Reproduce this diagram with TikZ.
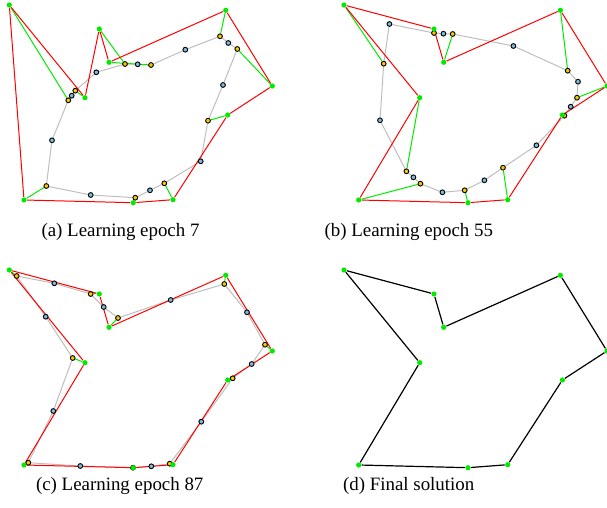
\documentclass[tikz,border=0pt]{standalone}
\usepackage{fontspec}
\setmainfont{Liberation Serif}
\usetikzlibrary{backgrounds}
\definecolor{cgreen}{RGB}{0,235,0}
\definecolor{nblue}{RGB}{125,185,220}
\definecolor{ngold}{RGB}{250,200,0}
\definecolor{ringgray}{RGB}{190,190,190}
\tikzset{
  city/.style = {circle, fill=cgreen, inner sep=0pt, minimum size=2.6pt},
  nrn/.style  = {circle, draw=black, line width=0.45pt, inner sep=0pt,
                 minimum size=2.4pt},
  ring/.style = {draw=ringgray, line width=0.5pt},
  link/.style = {draw=cgreen, line width=0.5pt},
  tour/.style = {draw=red, line width=0.5pt},
  sol/.style  = {draw=black, line width=0.6pt},
  capt/.style = {font=\fontsize{9.45}{11}\selectfont, inner sep=0pt},
}
% the ten cities, panel-local pixel coordinates
\def\citylist{1/9.3/5, 2/99.3/29, 3/109/62.3, 4/225.7/10.3, 5/272.3/86,
  6/227.7/115, 7/173/199.7, 8/133.3/202.7, 9/24/200, 10/85/97.7}

\begin{document}
\begin{tikzpicture}[x=0.5pt, y=-0.5pt]
  \useasboundingbox (0,0) rectangle (607,508);

  % (a) epoch 7
  \begin{scope}
    \foreach \i/\s/\x/\y in {1/gold/46.3/186, 2/blue/90.7/195, 3/gold/135.3/197.7,
      4/blue/150/190.3, 5/gold/164.3/183.3, 6/blue/200.7/161.3, 7/gold/208/120.7,
      8/blue/223/85, 9/gold/237.3/49, 10/blue/228.3/43, 11/gold/220/36.3,
      12/blue/185.3/49.7, 13/gold/151/65, 14/blue/137.7/64.3, 15/gold/125/64,
      16/blue/96.3/72.3, 17/gold/75.3/90.7, 18/blue/71.7/95.7, 19/gold/68.3/100.3,
      20/blue/52/140.3}
      \node[nrn, fill=n\s] (a-n\i) at (\x,\y) {};
    \foreach \i/\x/\y in \citylist
      \node[city] (a-c\i) at (\x,\y) {};
    \begin{scope}[on background layer]
      \foreach \i [remember=\i as \j (initially 20)] in {1,...,20}
        \draw[ring] (a-n\j) -- (a-n\i);
      \foreach \c/\n in {9/1, 8/3, 7/5, 6/7, 5/9, 4/11, 3/13, 2/15, 10/17, 1/19}
        \draw[link] (a-c\c) -- (a-n\n);
      \draw[tour] (a-c9) -- (a-c8) -- (a-c7) -- (a-c6) -- (a-c5) -- (a-c4)
        -- (a-c3) -- (a-c2) -- (a-c10) -- (a-c1) -- (a-c9);
    \end{scope}
  \end{scope}
  \node[capt] (capa) at (120.5,232.3) {(a) Learning epoch 7};

  % (b) epoch 55
  \begin{scope}[shift={(334.7,0)}]
    \foreach \i/\s/\x/\y in {1/blue/54.7/24, 2/gold/99.3/33, 3/blue/108.7/33.7,
      4/gold/118/34, 5/blue/178.7/46, 6/gold/233/70.7, 7/blue/243.3/81.7,
      8/gold/242.3/97.7, 9/blue/236/106.7, 10/gold/229.7/115.7, 11/blue/201.7/145.3,
      12/gold/168.3/167.7, 13/blue/149.7/180.3, 14/gold/130/190.3,
      15/blue/107.7/192.3, 16/gold/85.7/183.7, 17/blue/78.7/177.3,
      18/gold/71.7/171.3, 19/blue/45.3/120.3, 20/gold/49/63.7}
      \node[nrn, fill=n\s] (b-n\i) at (\x,\y) {};
    \foreach \i/\x/\y in \citylist
      \node[city] (b-c\i) at (\x,\y) {};
    \begin{scope}[on background layer]
      \foreach \i [remember=\i as \j (initially 20)] in {1,...,20}
        \draw[ring] (b-n\j) -- (b-n\i);
      \foreach \c/\n in {2/2, 3/4, 4/6, 5/8, 6/10, 7/12, 8/14, 9/16, 10/18, 1/20}
        \draw[link] (b-c\c) -- (b-n\n);
      \draw[tour] (b-c1) -- (b-c2) -- (b-c3) -- (b-c4) -- (b-c5) -- (b-c6)
        -- (b-c7) -- (b-c8) -- (b-c9) -- (b-c10) -- (b-c1);
    \end{scope}
  \end{scope}
  \node[capt] (capb) at (408.8,232.3) {(b) Learning epoch 55};

  % (c) epoch 87
  \begin{scope}[shift={(0,265)}]
    \foreach \i/\s/\x/\y in {1/gold/16.7/11, 2/blue/54.3/18.3, 3/gold/90.7/29,
      4/blue/103.7/42, 5/gold/118/53, 6/blue/170.7/35, 7/gold/224.3/19,
      8/blue/247/47.3, 9/gold/265/79.7, 10/blue/251.7/99, 11/gold/232.7/113.3,
      12/blue/201.3/156.7, 13/gold/169.7/198.7, 14/blue/151.3/201.3,
      15/gold/133/202.7, 16/blue/80.3/201, 17/gold/28.3/197.7, 18/blue/53.3/146,
      19/gold/72.7/93, 20/blue/45.7/51.7}
      \node[nrn, fill=n\s] (c-n\i) at (\x,\y) {};
    \foreach \i/\x/\y in \citylist
      \node[city] (c-c\i) at (\x,\y) {};
    \begin{scope}[on background layer]
      \foreach \i [remember=\i as \j (initially 20)] in {1,...,20}
        \draw[ring] (c-n\j) -- (c-n\i);
      \foreach \c/\n in {1/1, 2/3, 3/5, 4/7, 5/9, 6/11, 7/13, 8/15, 9/17, 10/19}
        \draw[link] (c-c\c) -- (c-n\n);
      \draw[tour] (c-c1) -- (c-c2) -- (c-c3) -- (c-c4) -- (c-c5) -- (c-c6)
        -- (c-c7) -- (c-c8) -- (c-c9) -- (c-c10) -- (c-c1);
    \end{scope}
  \end{scope}
  \node[capt] (capc) at (119.7,486.2) {(c) Learning epoch 87};

  % (d) final tour
  \begin{scope}[shift={(334.7,265)}]
    \foreach \i/\x/\y in \citylist
      \node[city] (d-c\i) at (\x,\y) {};
    \begin{scope}[on background layer]
      \draw[sol] (d-c1) -- (d-c2) -- (d-c3) -- (d-c4) -- (d-c5) -- (d-c6)
        -- (d-c7) -- (d-c8) -- (d-c9) -- (d-c10) -- (d-c1);
    \end{scope}
  \end{scope}
  \node[capt] (capd) at (408.7,486.2) {(d) Final solution};
\end{tikzpicture}
\end{document}
